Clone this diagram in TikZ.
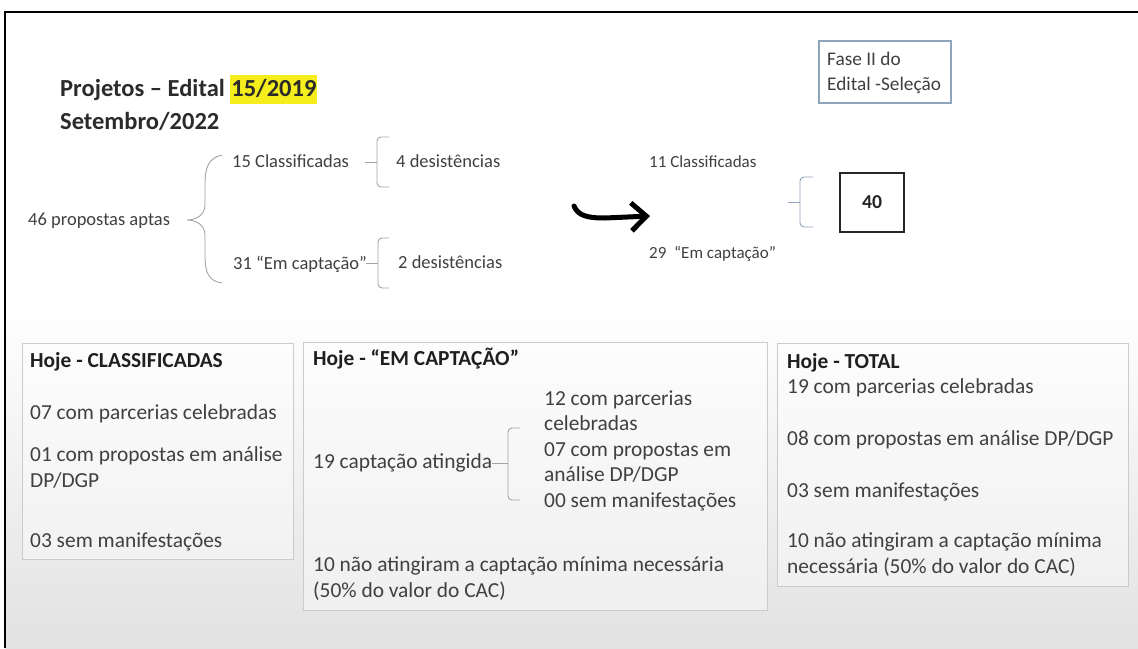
\documentclass[tikz,border=0pt]{standalone}
\usepackage{fontspec}
\setmainfont{Carlito}
\usetikzlibrary{arrows.meta}

\definecolor{txtgray}{HTML}{404040}
\definecolor{titlegray}{HTML}{2B2B2B}
\definecolor{bracegray}{HTML}{A3A3A3}
\definecolor{bluegray}{HTML}{8EA4BB}
\definecolor{panelline}{HTML}{CBCBCB}
\definecolor{hlyellow}{HTML}{F5EE1C}
\definecolor{bggray}{HTML}{E2E2E2}

\newcommand{\marca}[1]{{\setlength{\fboxsep}{1pt}\colorbox{hlyellow}{\rule[-0.3em]{0pt}{1.1em}#1}}}

\tikzset{
  txt/.style={anchor=base west, inner sep=0pt, text=txtgray, font=\fontsize{18.5}{22}\selectfont},
  smalltxt/.style={txt, font=\fontsize{17}{20}\selectfont},
  ptxt/.style={anchor=base west, inner sep=0pt, text=txtgray, align=left, font=\fontsize{21.4}{25.5}\selectfont},
  phead/.style={ptxt, text=black!88, font=\fontsize{21.4}{25.5}\selectfont\bfseries},
  panel/.style={draw=panelline, fill=white, fill opacity=0.4, line width=1pt},
  bracket/.style={draw=bracegray, line width=0.9pt, rounded corners=4pt},
  seta/.style={line width=5pt, line cap=round, -{Straight Barb[length=15pt,width=28pt,line width=5pt]}},
}

\begin{document}
\begin{tikzpicture}[x=1pt,y=-1pt]
\useasboundingbox (0,0) rectangle (1138,648);

% background and frame
\fill[white] (0,0) rectangle (1138,648);
\shade[top color=white, bottom color=bggray] (5,305) rectangle (1138,648);
\draw[line width=2.5pt] (5,648) -- (5,12) -- (1138,12);

% Title (multi-line nodes sit on their last baseline)
\node[anchor=base west, inner sep=0pt, text=titlegray, font=\fontsize{24.5}{30}\selectfont\bfseries] (titulo) at (60,96) {Projetos – Edital \marca{15/2019}};
\node[anchor=base west, inner sep=0pt, text=titlegray, font=\fontsize{24.5}{30}\selectfont\bfseries] (data) at (60,129) {Setembro/2022};

% Fase II box
\draw[bluegray, line width=1.2pt] (819,41) rectangle (951,103);
\node[anchor=base west, inner sep=0pt, text=txtgray, align=left, font=\fontsize{19.3}{25}\selectfont] (fase) at (827,90) {Fase II do\\Edital -Seleção};

% 46 propostas
\node[txt] (aptas) at (28,225) {46 propostas aptas};
\draw[bracket, rounded corners=0pt] (222,155) .. controls (208,158) and (205,168) .. (205,185) -- (205,205)
  .. controls (205,215) and (196,220) .. (187,220) .. controls (196,220) and (205,225) .. (205,235)
  -- (205,255) .. controls (205,272) and (208,281) .. (222,283);

% Classificadas
\node[txt] (class15) at (232,167) {15 Classificadas};
\draw[bracket] (389,137) -- (377,137) -- (377,187) -- (389,187);
\draw[bracket] (365,162) -- (377,162);
\node[txt] (desist4) at (396,167) {4 desistências};

% Em captacao
\node[txt] (capt31) at (233,269) {31 “Em captação”};
\draw[bracket] (389,238) -- (378,238) -- (378,288) -- (389,288);
\draw[bracket] (366,263) -- (378,263);
\node[txt] (desist2) at (398,268) {2 desistências};

% Arrow
\coordinate (setaini) at (574,206);
\coordinate (setafim) at (650,216);
\draw[seta] (setaini) .. controls (578,216) and (588,218) .. (605,218) -- (setafim);

% Remaining
\node[smalltxt] (class11) at (649,167) {11 Classificadas};
\node[smalltxt] (capt29) at (649,258) {29 \ “Em captação”};
\draw[bluegray, line width=0.9pt, rounded corners=4pt] (813,177) -- (800,177) -- (800,227) -- (813,227);
\draw[bluegray, line width=0.9pt] (788,202) -- (800,202);
\node[draw=black!85, line width=1.5pt, minimum width=64pt, minimum height=59pt, inner sep=0pt,
  font=\fontsize{19.7}{22}\selectfont\bfseries, text=black!85] (total40) at (872,202.5) {40};

% Hoje - CLASSIFICADAS
\draw[panel] (22,343) rectangle (293,559);
\node[phead] (hclass) at (30,367) {Hoje - CLASSIFICADAS};
\node[ptxt] (hclass1) at (30,419) {07 com parcerias celebradas};
\node[ptxt] (hclass2) at (30,487) {01 com propostas em análise\\DP/DGP};
\node[ptxt] (hclass3) at (30,547) {03 sem manifestações};

% Hoje - EM CAPTACAO
\draw[panel] (303,342) rectangle (767,610);
\node[phead] (hcapt) at (313,365) {Hoje - “EM CAPTAÇÃO”};
\node[ptxt] (hcapt1) at (313,468) {19 captação atingida};
\draw[bracket] (520,428) -- (508,428) -- (508,500) -- (520,500);
\draw[bracket] (hcapt1.east |- 0,463) -- (508,463);
\node[ptxt] (hcapt2) at (544,507) {12 com parcerias\\celebradas\\07 com propostas em\\análise DP/DGP\\00 sem manifestações};
\node[ptxt] (hcapt3) at (313,597) {10 não atingiram a captação mínima necessária\\(50\% do valor do CAC)};

% Hoje - TOTAL
\draw[panel] (777,343) rectangle (1128,586);
\node[phead] (htot) at (787,368) {Hoje - TOTAL};
\node[ptxt] (htot1) at (787,393) {19 com parcerias celebradas};
\node[ptxt] (htot2) at (787,445) {08 com propostas em análise DP/DGP};
\node[ptxt] (htot3) at (787,497) {03 sem manifestações};
\node[ptxt] (htot4) at (787,573) {10 não atingiram a captação mínima\\necessária (50\% do valor do CAC)};

\end{tikzpicture}
\end{document}
